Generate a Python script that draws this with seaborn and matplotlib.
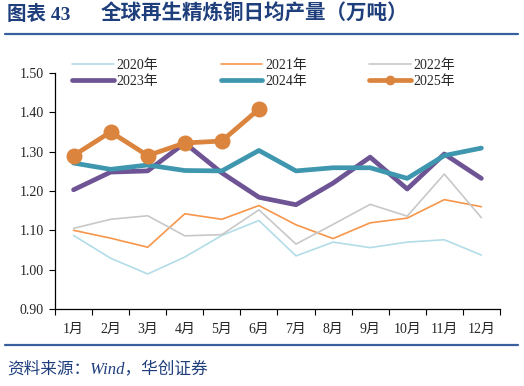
import numpy as np
import pandas as pd
import seaborn as sns
import matplotlib
matplotlib.use("Agg")
import matplotlib.pyplot as plt
from matplotlib.lines import Line2D

months = ["1月", "2月", "3月", "4月", "5月", "6月", "7月", "8月", "9月", "10月", "11月", "12月"]
y2020 = [1.087, 1.029, 0.989, 1.032, 1.087, 1.125, 1.035, 1.070, 1.056, 1.070, 1.076, 1.037]
y2021 = [1.100, 1.080, 1.057, 1.142, 1.128, 1.163, 1.114, 1.079, 1.119, 1.131, 1.178, 1.160]
y2022 = [1.105, 1.128, 1.137, 1.086, 1.089, 1.152, 1.065, 1.115, 1.166, 1.136, 1.243, 1.132]
y2023 = [1.203, 1.248, 1.251, 1.322, 1.246, 1.184, 1.165, 1.220, 1.286, 1.205, 1.294, 1.232]
y2024 = [1.271, 1.255, 1.266, 1.252, 1.251, 1.303, 1.251, 1.259, 1.259, 1.232, 1.290, 1.309]
y2025 = [1.290, 1.350, 1.290, 1.322, 1.327, 1.408]
years = ["2020年", "2021年", "2022年", "2023年", "2024年", "2025年"]
yticks = [0.90, 1.00, 1.10, 1.20, 1.30, 1.40, 1.50]

series = [y2020, y2021, y2022, y2023, y2024, y2025]
colors = ["#B2DCE8", "#F7964A", "#C8C8C8", "#6E5494", "#3E97AE", "#DB843D"]
widths = [1.2, 1.2, 1.2, 3.4, 3.4, 3.4]

rows = []
for yr, vals in zip(years, series):
    for i, v in enumerate(vals):
        rows.append({"year": yr, "idx": i, "value": v})
df = pd.DataFrame(rows)

sns.set_theme(style="white")
plt.rcParams["font.family"] = ["Liberation Serif", "Noto Sans CJK SC"]

fig = plt.figure(figsize=(5.24, 3.86), dpi=100)
ax = fig.add_axes([0.105, 0.1995, 0.849, 0.6115])

handles = {}
for yr, c, w in zip(years, colors, widths):
    sub = df[df["year"] == yr]
    kw = {}
    if yr == "2025年":
        kw = dict(marker="o", markersize=11.5, markeredgewidth=0)
    sns.lineplot(data=sub, x="idx", y="value", ax=ax, color=c, linewidth=w,
                 legend=False, **kw)
    handles[yr] = Line2D([0], [0], color=c, linewidth=w,
                         marker="o" if yr == "2025年" else None,
                         markersize=7, markeredgewidth=0)

ax.set_xlim(-0.5, 11.5)
ax.set_ylim(0.9, 1.5)
ax.set_yticks(yticks)
ax.set_yticklabels([f"{t:.2f}" for t in yticks], fontsize=10)
ax.set_xticks(np.arange(-0.5, 12, 1.0))
ax.set_xticklabels([])
ax.set_xticks(np.arange(12), minor=True)
ax.set_xticklabels(months, minor=True, fontsize=10)
ax.tick_params(axis="x", which="major", direction="out", length=4, width=0.8, color="black", bottom=True)
ax.tick_params(axis="x", which="minor", length=0, pad=10)
ax.tick_params(axis="y", direction="out", length=4, width=0.8, color="black", left=True, pad=4)
ax.set_xlabel("")
ax.set_ylabel("")
for s in ["top", "right"]:
    ax.spines[s].set_visible(False)
for s in ["left", "bottom"]:
    ax.spines[s].set_color("black")
    ax.spines[s].set_linewidth(0.9)

order = ["2020年", "2023年", "2021年", "2024年", "2022年", "2025年"]
fig.legend([handles[k] for k in order], order, ncol=3, loc="upper left",
           bbox_to_anchor=(0.127, 0.862), frameon=False, fontsize=10,
           handlelength=3.0, handletextpad=0.2, columnspacing=4.5,
           labelspacing=0.2, borderaxespad=0)

title_color = "#1F3E7C"
fig.text(0.013, 0.962, "图表 43", fontsize=14,
         fontweight="bold", color=title_color, va="center", ha="left")
fig.text(0.193, 0.962, "全球再生精炼铜日均产量（万吨）", fontsize=14.8,
         fontweight="bold", color=title_color, va="center", ha="left")
fig.add_artist(Line2D([0.01, 0.988], [0.913, 0.913], color="#3A5F9E", linewidth=1.6,
                      transform=fig.transFigure))
fig.add_artist(Line2D([0.01, 0.988], [0.105, 0.105], color="#3A5F9E", linewidth=1.6,
                      transform=fig.transFigure))
fig.text(0.013, 0.042, "资料来源：Wind，华创证券", fontsize=12, style="italic",
         color=title_color, va="center", ha="left")

fig.savefig("out.png", dpi=100)
